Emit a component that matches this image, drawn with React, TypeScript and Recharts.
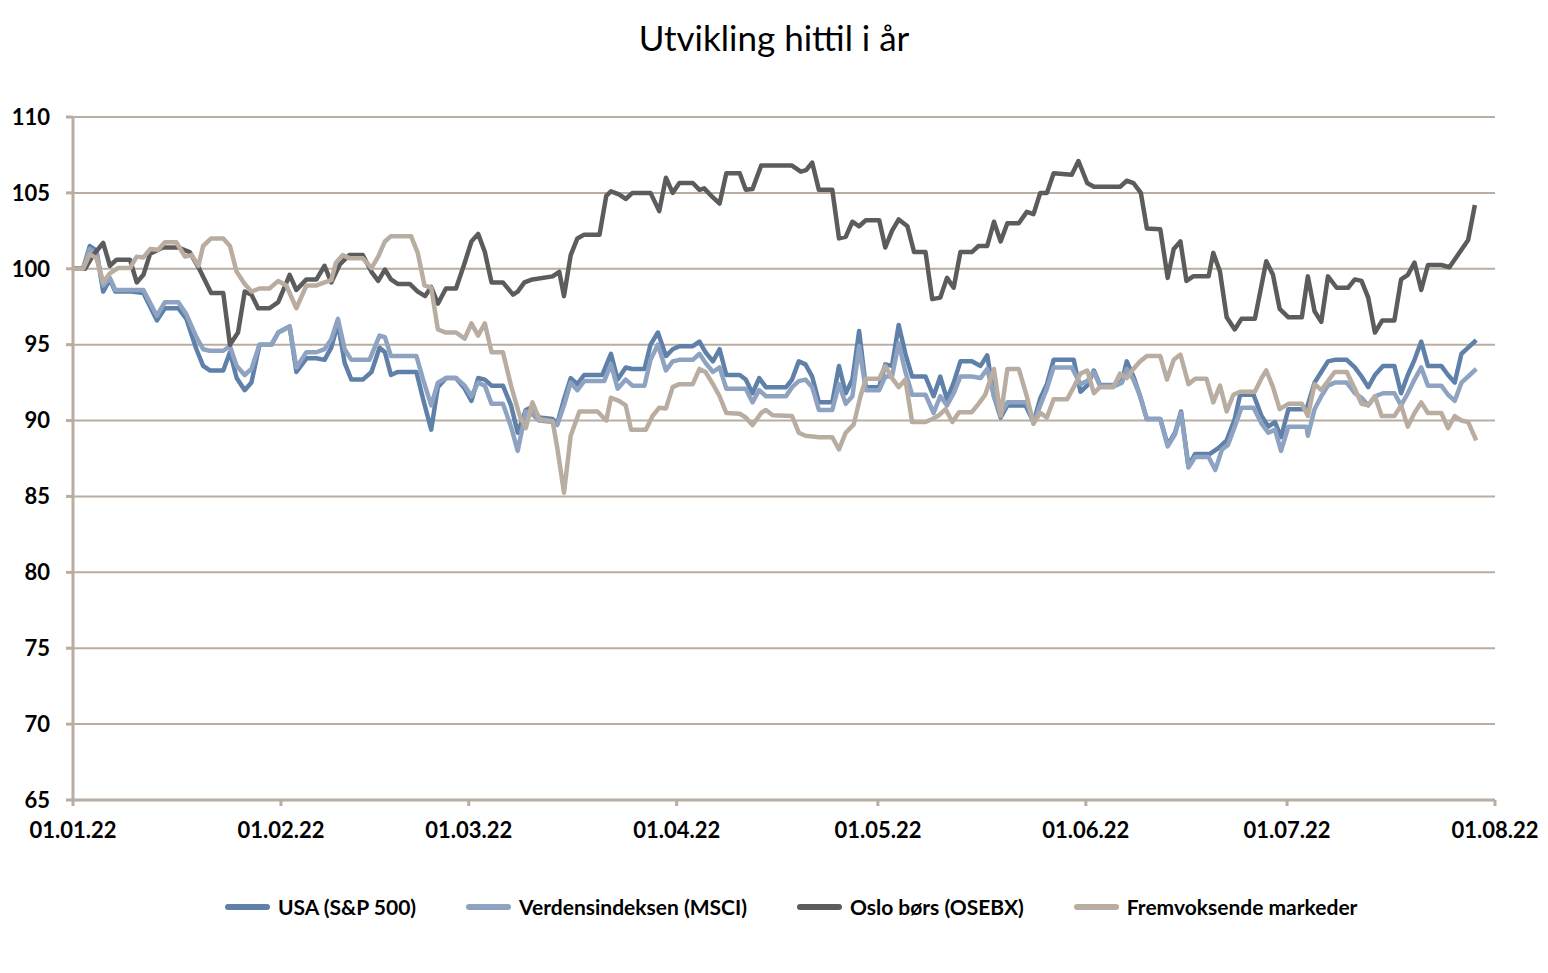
import { CartesianGrid, Line, LineChart, XAxis, YAxis } from 'recharts';

// day index counted from 01.01.22, value indexed to 100
const usa: [number, number][] = [
  [0, 100], [1.5, 100], [2.5, 101.5], [3.5, 101.2], [4.5, 98.5], [5.5, 99.3], [6.3, 98.5], [8.7, 98.5],
  [10.5, 98.4], [12.5, 96.6], [13.7, 97.4], [15.7, 97.4], [16.9, 96.7], [18.4, 94.7], [19.4, 93.6],
  [20.4, 93.3], [22.4, 93.3], [23.4, 94.5], [24.4, 92.8], [25.6, 92.0], [26.6, 92.5], [27.8, 95.0],
  [29.6, 95.0], [30.6, 95.8], [32.3, 96.2], [33.3, 93.2], [34.8, 94.1], [36.3, 94.1], [37.5, 94.0],
  [38.5, 94.8], [39.5, 96.4], [40.5, 93.8], [41.5, 92.7], [43.2, 92.7], [44.5, 93.2], [45.7, 94.8],
  [46.5, 94.5], [47.4, 93.0], [48.4, 93.2], [51.2, 93.2], [52.2, 91.4], [53.4, 89.4], [54.4, 92.2],
  [55.6, 92.8], [57.1, 92.8], [58.4, 92.1], [59.4, 91.3], [60.4, 92.8], [61.4, 92.7], [62.4, 92.3],
  [64.1, 92.3], [65.3, 91.0], [66.3, 89.2], [67.5, 90.7], [68.5, 90.9], [69.5, 90.2], [71.5, 90.1],
  [72.2, 89.8], [73.2, 91.4], [74.2, 92.8], [75.2, 92.4], [76.2, 93.0], [78.9, 93.0], [80.2, 94.4],
  [81.2, 92.7], [82.4, 93.5], [83.4, 93.4], [85.2, 93.4], [86.1, 95.0], [87.2, 95.8], [88.4, 94.25],
  [89.4, 94.7], [90.4, 94.9], [92.4, 94.9], [93.4, 95.2], [94.3, 94.5], [95.4, 93.9], [96.4, 94.7],
  [97.4, 93.0], [99.4, 93.0], [100.3, 92.7], [101.3, 91.8], [102.3, 92.8], [103.3, 92.2], [106.3, 92.2],
  [107.2, 92.7], [108.2, 93.9], [109.2, 93.7], [110.2, 92.9], [111.2, 91.2], [113.2, 91.2], [114.2, 93.6],
  [115.2, 91.8], [116.2, 92.7], [117.2, 95.9], [118.2, 92.2], [120.2, 92.2], [121.1, 93.7], [122.1, 93.6],
  [123.1, 96.3], [124.1, 94.4], [125.1, 92.9], [127.1, 92.9], [128.3, 91.6], [129.3, 92.9], [130.3, 91.4],
  [131.3, 92.5], [132.3, 93.9], [134.0, 93.9], [135.3, 93.6], [136.3, 94.3], [137.3, 91.6], [138.3, 90.2],
  [139.3, 91.0], [142.0, 91.0], [143.2, 89.9], [144.2, 91.45], [145.2, 92.4], [146.2, 94.0], [149.2, 94.0],
  [150.2, 91.9], [151.2, 92.3], [152.2, 93.3], [153.1, 92.35], [155.4, 92.35], [156.4, 92.6], [157.1, 93.9],
  [158.1, 92.9], [159.1, 91.6], [160.1, 90.1], [162.1, 90.1], [163.2, 88.4], [164.3, 89.2], [165.2, 90.6],
  [166.3, 87.0], [167.3, 87.8], [169.5, 87.8], [170.8, 88.2], [172.0, 88.7], [173.2, 90.1], [174.0, 91.7],
  [176.0, 91.7], [177.2, 90.3], [178.2, 89.6], [179.2, 89.9], [180.1, 88.9], [181.2, 90.75], [183.9, 90.75],
  [185.1, 92.5], [186.1, 93.2], [187.1, 93.9], [188.1, 94.0], [189.9, 94.0], [191.1, 93.5], [192.1, 92.9],
  [193.1, 92.2], [194.1, 93.0], [195.3, 93.6], [197.0, 93.6], [198.0, 91.8], [199.0, 93.0], [200.0, 94.0],
  [201.0, 95.2], [202.0, 93.6], [204.0, 93.6], [205.0, 93.0], [206.0, 92.5], [207.0, 94.4], [208.0, 94.8],
  [209.2, 95.3]
];

const msci: [number, number][] = [
  [0, 100], [1.5, 100], [2.5, 101.3], [3.5, 101.0], [4.5, 98.9], [5.5, 99.4], [6.3, 98.6], [8.7, 98.6],
  [10.5, 98.6], [12.5, 96.9], [13.7, 97.8], [15.7, 97.8], [16.9, 97.0], [18.4, 95.5], [19.4, 94.7],
  [20.4, 94.6], [22.4, 94.6], [23.4, 94.9], [24.4, 93.6], [25.6, 93.0], [26.6, 93.4], [27.8, 95.0],
  [29.6, 95.0], [30.6, 95.8], [32.3, 96.2], [33.3, 93.5], [34.8, 94.5], [36.3, 94.5], [37.5, 94.7],
  [38.5, 95.35], [39.5, 96.7], [40.5, 94.7], [41.5, 94.0], [44.2, 94.0], [45.7, 95.6], [46.5, 95.5],
  [47.4, 94.25], [51.2, 94.25], [52.2, 92.7], [53.4, 91.0], [54.4, 92.5], [55.6, 92.8], [57.1, 92.8],
  [58.4, 92.3], [59.4, 91.6], [60.4, 92.5], [61.4, 92.3], [62.4, 91.1], [64.1, 91.1], [65.3, 89.6],
  [66.3, 88.0], [67.5, 90.6], [68.5, 90.4], [69.5, 90.0], [71.5, 89.9], [72.2, 89.7], [73.2, 91.0],
  [74.2, 92.5], [75.2, 92.0], [76.2, 92.6], [79.2, 92.6], [80.2, 93.7], [81.2, 92.1], [82.4, 92.7],
  [83.4, 92.3], [85.2, 92.3], [86.1, 94.0], [87.2, 95.0], [88.4, 93.3], [89.4, 93.9], [90.4, 94.0],
  [92.4, 94.0], [93.4, 94.4], [94.3, 93.8], [95.4, 93.2], [96.4, 93.5], [97.4, 92.1], [100.3, 92.1],
  [101.3, 91.2], [102.3, 92.0], [103.3, 91.6], [106.3, 91.6], [107.2, 92.2], [108.2, 92.6], [109.2, 92.7],
  [110.2, 92.2], [111.2, 90.7], [113.2, 90.7], [114.2, 92.4], [115.2, 91.1], [116.2, 91.6], [117.2, 94.9],
  [118.2, 92.0], [120.2, 92.0], [121.1, 92.9], [122.1, 92.9], [123.1, 95.1], [124.1, 93.2], [125.1, 91.7],
  [127.1, 91.7], [128.3, 90.5], [129.3, 91.6], [130.3, 91.0], [131.3, 91.8], [132.3, 92.9], [134.0, 92.9],
  [135.3, 92.8], [136.3, 93.4], [137.3, 91.6], [138.3, 90.4], [139.3, 91.2], [142.2, 91.2], [143.2, 89.8],
  [144.2, 91.0], [145.2, 92.1], [146.2, 93.5], [148.9, 93.5], [150.2, 92.4], [151.2, 92.6], [152.2, 93.2],
  [153.1, 92.3], [155.4, 92.3], [156.4, 92.5], [157.1, 93.4], [158.1, 92.7], [159.1, 91.6], [160.1, 90.1],
  [162.1, 90.1], [163.2, 88.3], [164.3, 89.1], [165.2, 90.5], [166.3, 86.9], [167.3, 87.6], [169.3, 87.6],
  [170.3, 86.75], [171.3, 88.1], [172.2, 88.4], [173.2, 89.6], [174.2, 90.85], [176.0, 90.85], [177.2, 89.8],
  [178.2, 89.2], [179.2, 89.4], [180.1, 88.0], [181.2, 89.6], [183.9, 89.6], [184.1, 89.0], [185.1, 90.75],
  [186.1, 91.6], [187.1, 92.3], [188.1, 92.5], [189.9, 92.5], [191.1, 91.8], [192.1, 91.5], [193.1, 91.0],
  [194.1, 91.6], [195.3, 91.8], [197.0, 91.8], [198.0, 91.0], [199.0, 91.8], [200.0, 92.7], [201.0, 93.5],
  [202.0, 92.3], [204.0, 92.3], [205.0, 91.7], [206.0, 91.3], [207.0, 92.5], [208.0, 92.9], [209.2, 93.4]
];

const osebx: [number, number][] = [
  [0, 100], [1.8, 100], [3.0, 100.9], [4.5, 101.7], [5.5, 100.2], [6.5, 100.6], [8.5, 100.6], [9.5, 99.1],
  [10.5, 99.6], [11.5, 101.0], [13.4, 101.4], [15.7, 101.4], [17.4, 101.1], [18.7, 100.1], [20.6, 98.4],
  [22.4, 98.4], [23.4, 95.0], [24.6, 95.8], [25.6, 98.5], [26.6, 98.3], [27.6, 97.4], [29.3, 97.4],
  [30.6, 97.8], [32.3, 99.6], [33.3, 98.6], [34.8, 99.3], [36.3, 99.3], [37.5, 100.2], [38.5, 99.1],
  [39.8, 100.3], [41.2, 100.9], [43.2, 100.9], [44.5, 99.8], [45.5, 99.2], [46.5, 99.95], [47.4, 99.3],
  [48.4, 99.0], [50.2, 99.0], [51.4, 98.5], [52.5, 98.2], [53.4, 98.8], [54.4, 97.7], [55.6, 98.7],
  [57.1, 98.7], [58.4, 100.4], [59.4, 101.8], [60.4, 102.3], [61.4, 101.1], [62.4, 99.1], [64.1, 99.1],
  [65.6, 98.3], [66.3, 98.5], [67.3, 99.1], [68.5, 99.3], [71.5, 99.5], [72.5, 99.8], [73.2, 98.2],
  [74.2, 100.9], [75.2, 102.0], [76.2, 102.25], [78.5, 102.25], [79.5, 104.8], [80.2, 105.1], [81.4, 104.9],
  [82.4, 104.6], [83.4, 105.0], [86.1, 105.0], [87.4, 103.8], [88.4, 106.0], [89.4, 105.0], [90.4, 105.65],
  [92.4, 105.65], [93.4, 105.2], [94.1, 105.3], [95.4, 104.7], [96.4, 104.3], [97.4, 106.3], [99.4, 106.3],
  [100.3, 105.2], [101.3, 105.25], [102.6, 106.8], [107.2, 106.8], [108.5, 106.4], [109.3, 106.5],
  [110.2, 107.0], [111.2, 105.2], [113.2, 105.2], [114.2, 102.0], [115.2, 102.1], [116.2, 103.1],
  [117.2, 102.8], [118.2, 103.2], [120.2, 103.2], [121.1, 101.4], [122.1, 102.5], [123.1, 103.25],
  [124.4, 102.8], [125.4, 101.1], [127.1, 101.1], [128.1, 98.0], [129.3, 98.1], [130.3, 99.4],
  [131.3, 98.75], [132.3, 101.1], [134.0, 101.1], [135.0, 101.5], [136.3, 101.5], [137.3, 103.1],
  [138.3, 101.8], [139.3, 103.0], [141.0, 103.0], [142.2, 103.75], [143.2, 103.6], [144.2, 105.0],
  [145.2, 105.0], [146.2, 106.3], [148.9, 106.2], [149.9, 107.1], [151.2, 105.65], [152.2, 105.4],
  [156.1, 105.4], [157.1, 105.8], [158.1, 105.65], [159.2, 105.0], [160.1, 102.65], [162.1, 102.6],
  [163.2, 99.4], [164.1, 101.3], [165.1, 101.8], [166.0, 99.2], [167.0, 99.5], [169.3, 99.5],
  [170.0, 101.05], [171.0, 99.8], [172.0, 96.8], [173.2, 96.0], [174.2, 96.7], [176.2, 96.7],
  [177.9, 100.5], [178.9, 99.6], [179.9, 97.35], [181.2, 96.8], [183.2, 96.8], [184.1, 99.5], [185.1, 97.2],
  [186.1, 96.5], [187.1, 99.5], [188.4, 98.75], [190.1, 98.75], [191.1, 99.3], [192.1, 99.2], [193.1, 98.1],
  [194.1, 95.8], [195.2, 96.6], [197.0, 96.6], [198.0, 99.3], [199.0, 99.6], [200.0, 100.4], [201.0, 98.6],
  [202.0, 100.25], [204.0, 100.25], [205.2, 100.1], [208.0, 101.9], [209.0, 104.2]
];

const emerging: [number, number][] = [
  [0, 100], [1.5, 100], [2.5, 100.95], [3.5, 100.7], [4.5, 99.1], [5.5, 99.7], [6.7, 100.05], [8.5, 100.05],
  [9.5, 100.8], [10.5, 100.75], [11.5, 101.3], [12.7, 101.25], [13.7, 101.75], [15.4, 101.75], [16.7, 100.8],
  [17.7, 100.9], [18.7, 100.2], [19.4, 101.5], [20.6, 102.0], [22.4, 102.0], [23.4, 101.5], [24.4, 99.8],
  [25.6, 99.0], [26.6, 98.5], [27.8, 98.7], [29.3, 98.7], [30.6, 99.2], [31.8, 98.9], [33.3, 97.4],
  [34.8, 98.9], [36.3, 98.9], [37.5, 99.1], [38.5, 99.25], [39.2, 100.4], [40.2, 100.9], [41.2, 100.7],
  [43.2, 100.7], [44.5, 100.05], [45.5, 100.8], [46.5, 101.8], [47.4, 102.15], [50.4, 102.15], [51.4, 101.05],
  [52.4, 98.9], [53.4, 98.75], [54.4, 96.0], [55.6, 95.8], [57.1, 95.8], [58.4, 95.4], [59.4, 96.4],
  [60.4, 95.6], [61.4, 96.4], [62.4, 94.5], [64.1, 94.5], [65.3, 92.3], [66.6, 90.3], [67.5, 89.5],
  [68.5, 91.2], [69.5, 90.1], [71.5, 89.95], [72.2, 88.2], [73.2, 85.25], [74.2, 89.0], [75.5, 90.6],
  [78.2, 90.6], [79.5, 90.0], [80.2, 91.5], [81.4, 91.3], [82.4, 91.0], [83.2, 89.4], [85.4, 89.4],
  [86.4, 90.3], [87.4, 90.85], [88.4, 90.8], [89.4, 92.2], [90.4, 92.4], [92.4, 92.4], [93.4, 93.4],
  [94.3, 93.2], [95.4, 92.4], [96.4, 91.6], [97.4, 90.5], [99.4, 90.45], [100.3, 90.2], [101.3, 89.7],
  [102.6, 90.5], [103.3, 90.7], [104.3, 90.35], [107.2, 90.3], [108.2, 89.2], [109.2, 89.0], [111.2, 88.9],
  [113.2, 88.9], [114.2, 88.1], [115.2, 89.2], [116.4, 89.75], [117.4, 91.6], [118.2, 92.75], [120.2, 92.75],
  [121.1, 93.6], [122.1, 92.8], [123.1, 92.2], [124.1, 92.7], [125.1, 89.9], [127.1, 89.9], [128.1, 90.1],
  [129.1, 90.35], [130.1, 90.75], [131.1, 89.9], [132.1, 90.55], [134.0, 90.55], [135.0, 91.1], [136.0, 91.7],
  [137.3, 93.4], [138.3, 90.3], [139.3, 93.4], [141.0, 93.4], [142.2, 91.6], [143.2, 89.8], [144.2, 90.5],
  [145.2, 90.2], [146.2, 91.4], [148.2, 91.4], [149.2, 92.2], [150.2, 93.1], [151.2, 93.3], [152.2, 91.8],
  [153.1, 92.2], [155.1, 92.2], [156.1, 93.1], [157.1, 92.8], [158.1, 93.4], [159.1, 93.9], [160.1, 94.25],
  [162.1, 94.25], [163.1, 92.7], [164.1, 94.0], [165.1, 94.35], [166.3, 92.4], [167.3, 92.75], [169.0, 92.75],
  [170.0, 91.2], [171.0, 92.3], [172.0, 90.6], [173.0, 91.7], [174.0, 91.9], [176.2, 91.9], [177.2, 92.8],
  [177.9, 93.3], [178.9, 92.2], [179.9, 90.75], [181.2, 91.1], [183.2, 91.1], [184.1, 90.3], [185.1, 92.4],
  [186.1, 92.0], [187.1, 92.6], [188.1, 93.2], [189.9, 93.2], [191.1, 92.1], [192.1, 91.1], [193.1, 91.0],
  [194.1, 91.6], [195.1, 90.3], [197.0, 90.3], [198.0, 91.0], [199.0, 89.6], [200.0, 90.5], [201.0, 91.2],
  [202.0, 90.5], [204.0, 90.5], [205.0, 89.5], [206.0, 90.3], [207.0, 90.0], [208.0, 89.9], [209.2, 88.7]
];

const tickDays = [0, 31, 59, 90, 120, 151, 181, 212];
const tickLabels = ['01.01.22', '01.02.22', '01.03.22', '01.04.22', '01.05.22', '01.06.22', '01.07.22', '01.08.22'];
const yTicks = [65, 70, 75, 80, 85, 90, 95, 100, 105, 110];

const seriesNames = ['USA (S&P 500)', 'Verdensindeksen (MSCI)', 'Oslo børs (OSEBX)', 'Fremvoksende markeder'];
const seriesColors = ['#5f80a8', '#8ea3c1', '#5c5c5c', '#b9ada2'];
const seriesData = [usa, msci, osebx, emerging];

const beige = '#b9ada2';
const font = 'Lato, "Open Sans", sans-serif';

const toRows = (pts: [number, number][]) => pts.map(([d, v]) => ({ d, v }));

function Legend() {
  return (
    <div
      style={{
        position: 'absolute',
        top: 894,
        left: 225,
        display: 'flex',
        gap: 50,
        fontFamily: font,
        fontWeight: 700,
        fontSize: 21,
        color: '#000'
      }}
    >
      {seriesNames.map((name, i) => (
        <div key={name} style={{ display: 'flex', alignItems: 'center' }}>
          <span
            style={{
              width: 45,
              height: 6,
              borderRadius: 3,
              background: seriesColors[i],
              marginRight: 8
            }}
          />
          {name}
        </div>
      ))}
    </div>
  );
}

export default function App() {
  return (
    <div
      style={{
        position: 'absolute',
        left: 0,
        top: 0,
        width: 1548,
        height: 973,
        background: '#fff',
        fontFamily: font
      }}
    >
      <LineChart width={1548} height={973} margin={{ top: 117, right: 53, bottom: 0, left: 0 }}>
        <CartesianGrid vertical={false} stroke={beige} strokeWidth={2} />
        <XAxis
          type='number'
          dataKey='d'
          domain={[0, 212]}
          ticks={tickDays}
          tickFormatter={(d: number) => tickLabels[tickDays.indexOf(d)]}
          height={173}
          axisLine={{ stroke: beige, strokeWidth: 3 }}
          tickLine={{ stroke: beige, strokeWidth: 3 }}
          tickSize={6}
          tickMargin={16}
          tick={{ fontSize: 22, fontWeight: 700, fill: '#000', fontFamily: font }}
          allowDataOverflow
        />
        <YAxis
          type='number'
          domain={[65, 110]}
          ticks={yTicks}
          width={73}
          axisLine={{ stroke: beige, strokeWidth: 3 }}
          tickLine={{ stroke: beige, strokeWidth: 3 }}
          tickSize={7}
          tickMargin={16}
          tick={{ fontSize: 22, fontWeight: 700, fill: '#000', fontFamily: font }}
          allowDataOverflow
        />
        {seriesData.map((pts, i) => (
          <Line
            key={seriesNames[i]}
            data={toRows(pts)}
            dataKey='v'
            name={seriesNames[i]}
            type='linear'
            stroke={seriesColors[i]}
            strokeWidth={4.5}
            strokeLinejoin='round'
            dot={false}
            activeDot={false}
            isAnimationActive={false}
          />
        ))}
      </LineChart>
      <div
        style={{
          position: 'absolute',
          top: 16,
          left: 0,
          width: 1548,
          textAlign: 'center',
          fontSize: 35,
          color: '#000',
          fontFamily: font
        }}
      >
        Utvikling hittil i år
      </div>
      <Legend />
    </div>
  );
}
